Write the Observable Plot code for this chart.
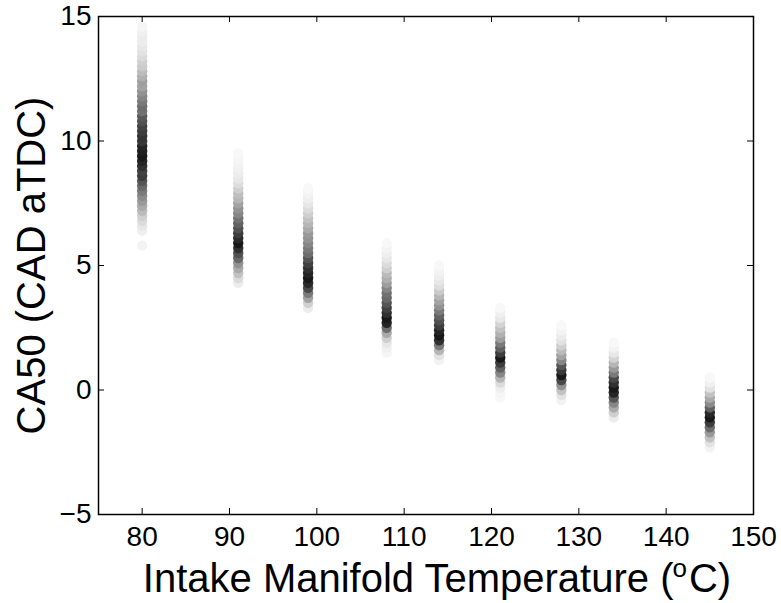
<!DOCTYPE html>
<html>
<head>
<meta charset="utf-8">
<script src="https://cdn.jsdelivr.net/npm/d3@7"></script>
<script src="https://cdn.jsdelivr.net/npm/@observablehq/plot@0.6"></script>
<style>
  html, body { margin: 0; padding: 0; background: #fff; }
  #chart { width: 781px; height: 603px; }
  svg { font-family: "Liberation Sans", Arial, Helvetica, sans-serif; }
</style>
</head>
<body>
<div id="chart"></div>
<script>
// Intake manifold temperatures (°C)
const temps = [80, 91, 99, 108, 114, 121, 128, 134, 145];
// Tick labels
const xTicks = [80, 90, 100, 110, 120, 130, 140, 150];
const yTicks = [-5, 0, 5, 10, 15];
// CA50 values [CAD aTDC, shade 0=white..1=black] per temperature
const ca50_80 = [[14.6,0.04],[14.4,0.06],[14.2,0.08],[14.0,0.08],[13.8,0.1],[13.6,0.12],[13.4,0.15],[13.2,0.2],[13.0,0.22],[12.8,0.28],[12.6,0.33],[12.4,0.4],[12.2,0.38],[12.0,0.45],[11.8,0.5],[11.6,0.55],[11.4,0.6],[11.2,0.58],[11.0,0.68],[10.8,0.72],[10.6,0.78],[10.4,0.8],[10.2,0.84],[10.0,0.82],[9.8,0.9],[9.6,0.92],[9.4,0.95],[9.2,0.9],[9.0,0.85],[8.8,0.78],[8.6,0.8],[8.4,0.7],[8.2,0.62],[8.0,0.55],[7.8,0.48],[7.6,0.42],[7.4,0.35],[7.2,0.28],[7.0,0.2],[6.8,0.15],[6.6,0.1],[6.4,0.06],[5.8,0.05]];
const ca50_91 = [[9.5,0.03],[9.3,0.04],[9.1,0.05],[8.9,0.06],[8.7,0.08],[8.5,0.1],[8.3,0.14],[8.1,0.2],[7.9,0.27],[7.7,0.3],[7.5,0.38],[7.3,0.45],[7.1,0.5],[6.9,0.58],[6.7,0.65],[6.5,0.72],[6.3,0.8],[6.1,0.88],[5.9,0.95],[5.7,0.85],[5.5,0.72],[5.3,0.62],[5.1,0.45],[4.9,0.35],[4.7,0.25],[4.5,0.15],[4.3,0.08]];
const ca50_99 = [[8.1,0.03],[7.9,0.05],[7.7,0.07],[7.5,0.1],[7.3,0.15],[7.1,0.2],[6.9,0.25],[6.7,0.3],[6.5,0.35],[6.3,0.42],[6.1,0.45],[5.9,0.5],[5.7,0.55],[5.5,0.6],[5.3,0.7],[5.1,0.78],[4.9,0.85],[4.7,0.9],[4.5,0.95],[4.3,0.88],[4.1,0.75],[3.9,0.55],[3.7,0.38],[3.5,0.2],[3.3,0.08]];
const ca50_108 = [[5.9,0.03],[5.7,0.05],[5.5,0.07],[5.3,0.1],[5.1,0.15],[4.9,0.2],[4.7,0.28],[4.5,0.33],[4.3,0.4],[4.1,0.5],[3.9,0.58],[3.7,0.62],[3.5,0.7],[3.3,0.78],[3.1,0.85],[2.9,0.95],[2.7,0.9],[2.5,0.6],[2.3,0.35],[2.1,0.2],[1.9,0.1],[1.7,0.06],[1.5,0.04]];
const ca50_114 = [[5.0,0.03],[4.8,0.05],[4.6,0.07],[4.4,0.1],[4.2,0.14],[4.0,0.22],[3.8,0.3],[3.6,0.38],[3.4,0.45],[3.2,0.55],[3.0,0.65],[2.8,0.72],[2.6,0.8],[2.4,0.9],[2.2,0.95],[2.0,0.85],[1.8,0.55],[1.6,0.3],[1.4,0.12],[1.2,0.05]];
const ca50_121 = [[3.3,0.03],[3.1,0.06],[2.9,0.1],[2.7,0.18],[2.5,0.25],[2.3,0.32],[2.1,0.4],[1.9,0.55],[1.7,0.65],[1.5,0.8],[1.3,0.95],[1.1,0.8],[0.9,0.65],[0.7,0.5],[0.5,0.3],[0.3,0.15],[0.1,0.07],[-0.1,0.04],[-0.3,0.03]];
const ca50_128 = [[2.6,0.03],[2.4,0.05],[2.2,0.08],[2.0,0.12],[1.8,0.2],[1.6,0.28],[1.4,0.38],[1.2,0.5],[1.0,0.7],[0.8,0.82],[0.6,0.95],[0.4,0.75],[0.2,0.45],[0.0,0.25],[-0.2,0.12],[-0.4,0.05]];
const ca50_134 = [[1.9,0.03],[1.7,0.05],[1.5,0.1],[1.3,0.18],[1.1,0.3],[0.9,0.42],[0.7,0.55],[0.5,0.75],[0.3,0.85],[0.1,0.95],[-0.1,0.9],[-0.3,0.7],[-0.5,0.5],[-0.7,0.35],[-0.9,0.2],[-1.1,0.08]];
const ca50_145 = [[0.5,0.03],[0.3,0.06],[0.1,0.12],[-0.1,0.25],[-0.3,0.35],[-0.5,0.48],[-0.7,0.65],[-0.9,0.88],[-1.1,0.95],[-1.3,0.8],[-1.5,0.6],[-1.7,0.42],[-1.9,0.25],[-2.1,0.12],[-2.3,0.05]];
const series = [ca50_80, ca50_91, ca50_99, ca50_108, ca50_114, ca50_121, ca50_128, ca50_134, ca50_145];

const rows = [];
series.forEach((pts, i) => {
  pts.slice().sort((a, b) => a[0] - b[0]).forEach(([v, s]) => {
    const g = Math.round(255 * (1 - s * 0.95));
    rows.push({temp: temps[i], ca50: v, fill: `rgb(${g},${g},${g})`});
  });
});

const W = 781, H = 603;
const mL = 98, mR = 28, mT = 16, mB = 89;
const plotW = W - mL - mR, plotH = H - mT - mB;

const chart = Plot.plot({
  width: W, height: H,
  marginLeft: mL, marginRight: mR, marginTop: mT, marginBottom: mB,
  style: {background: "#fff", fontFamily: '"Liberation Sans", Arial, Helvetica, sans-serif', color: "#000"},
  x: {domain: [75, 150]},
  y: {domain: [-5, 15]},
  color: {type: "identity"},
  marks: [
    Plot.dot(rows, {x: "temp", y: "ca50", r: 5.2, fill: "fill", stroke: null}),
    Plot.ruleX(xTicks, {x: d => d, insetTop: plotH - 6, stroke: "#000", strokeWidth: 1}),
    Plot.ruleX(xTicks, {x: d => d, insetBottom: plotH - 6, stroke: "#000", strokeWidth: 1}),
    Plot.ruleY(yTicks, {y: d => d, insetRight: plotW - 6, stroke: "#000", strokeWidth: 1}),
    Plot.ruleY(yTicks, {y: d => d, insetLeft: plotW - 6, stroke: "#000", strokeWidth: 1}),
    Plot.frame({stroke: "#000", strokeWidth: 1.5}),
    Plot.axisX({ticks: xTicks, tickSize: 0, tickPadding: 12, fontSize: 28, label: null, fill: "#000"}),
    Plot.axisY({ticks: yTicks, tickSize: 0, tickPadding: 7, fontSize: 28, label: null, fill: "#000"}),
    Plot.text(["CA50 (CAD aTDC)"], {frameAnchor: "left", rotate: -90, dx: -66, fontSize: 40, fill: "#000", textAnchor: "middle"})
  ]
});
document.getElementById("chart").appendChild(chart);

// x-axis title with superscript degree "o"
const svg = d3.select(chart);
const t = svg.append("text")
  .attr("x", 437).attr("y", 592)
  .attr("text-anchor", "middle")
  .attr("font-size", 40)
  .attr("fill", "#000")
  .attr("font-family", '"Liberation Sans", Arial, Helvetica, sans-serif');
t.append("tspan").text("Intake Manifold Temperature (");
t.append("tspan").attr("dx", -1).attr("dy", -15).attr("font-size", 26).text("o");
t.append("tspan").attr("dx", 2).attr("dy", 15).text("C)");
</script>
</body>
</html>
